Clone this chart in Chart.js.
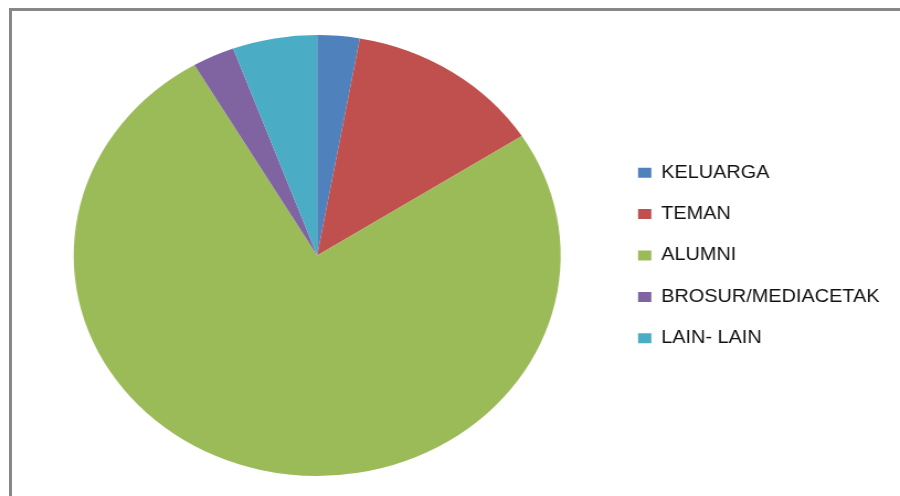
<!DOCTYPE html>
<html>
<head>
<meta charset="utf-8">
<script src="https://cdn.jsdelivr.net/npm/chart.js@4/dist/chart.umd.min.js"></script>
<style>
  html, body { margin: 0; padding: 0; background: #fff; }
  #frame { position: relative; width: 900px; height: 496px; overflow: hidden; background: #fff; }
  #frame .edge-top { position: absolute; left: 9px; top: 8px; width: 891px; height: 3px; background: #878787; }
  #frame .edge-left { position: absolute; left: 9px; top: 8px; bottom: 0; width: 3px; background: #878787; }
  /* the sheet chart is drawn narrow and stretched sideways, like the exported image */
  #stretch { position: absolute; left: 0; top: 0; width: 815px; height: 496px; transform: scaleX(1.1043); transform-origin: 0 0; }
</style>
</head>
<body>
<div id="frame">
  <div id="stretch"><canvas id="sourceChart" width="815" height="496"></canvas></div>
  <div class="edge-top"></div>
  <div class="edge-left"></div>
</div>
<script>
// respondents by source of information
const categories = ['KELUARGA', 'TEMAN', 'ALUMNI', 'BROSUR/MEDIACETAK', 'LAIN- LAIN'];
const counts = [3, 14, 81, 3, 6];
const sliceColors = ['#4F81BD', '#C0504D', '#9BBB59', '#8064A2', '#4BACC6'];

const ctx = document.getElementById('sourceChart').getContext('2d');
new Chart(ctx, {
    type: 'pie',
    data: {
        labels: categories,
        datasets: [{
            data: counts,
            backgroundColor: sliceColors,
            borderWidth: 0
        }]
    },
    options: {
        responsive: false,
        animation: false,
        devicePixelRatio: 1,
        layout: {
            padding: { left: 20, right: 8.5, top: 35, bottom: 20 }
        },
        plugins: {
            tooltip: { enabled: false },
            legend: {
                position: 'right',
                labels: {
                    boxWidth: 12,
                    boxHeight: 10,
                    padding: 23.4,
                    color: '#111',
                    font: { family: 'Liberation Sans', size: 18 }
                }
            }
        }
    }
});
</script>
</body>
</html>
